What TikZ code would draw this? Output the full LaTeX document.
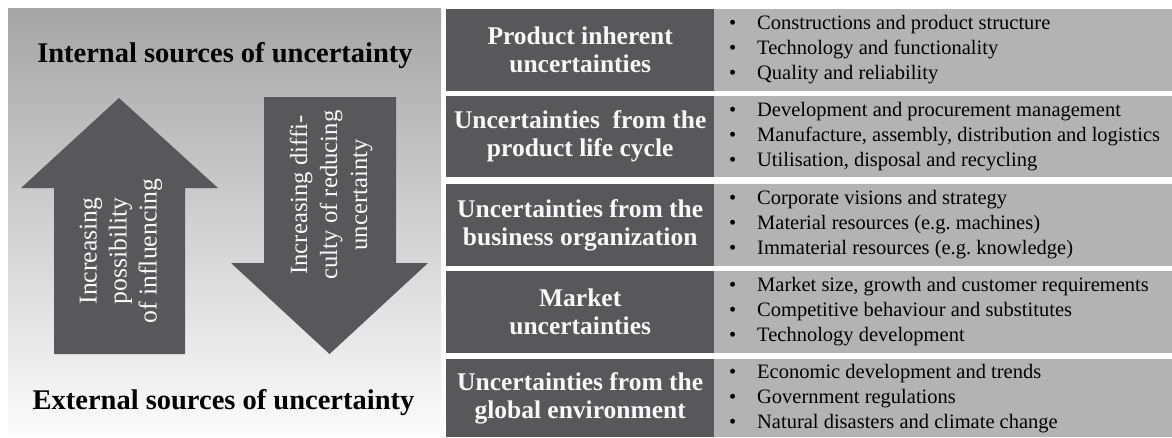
\documentclass[tikz,border=0pt]{standalone}
\usepackage{fontspec}
\setmainfont{Liberation Serif}
\frenchspacing
\definecolor{dk}{RGB}{88,88,90}
\definecolor{lt}{RGB}{179,179,179}
\definecolor{ptop}{RGB}{165,165,165}
\definecolor{pbot}{RGB}{252,252,252}
\definecolor{wt}{RGB}{248,248,248}
\newcommand\myb[1]{\makebox[28pt][l]{\textbullet}#1}
\begin{document}
\begin{tikzpicture}[x=1pt,y=-1pt,
  hdr/.style={fill=dk, text=wt, font=\fontsize{25.5}{28}\selectfont\bfseries,
    align=center, inner sep=0pt, minimum width=268pt, anchor=north west},
  lbox/.style={fill=lt, draw=none, inner sep=0pt, minimum width=458pt, anchor=north west},
  lst/.style={text=black, font=\fontsize{20.5}{25}\selectfont,
    align=left, inner sep=0pt, anchor=west},
  ttl/.style={font=\fontsize{28.5}{32}\selectfont\bfseries, text=black, inner sep=0pt},
  arrtxt/.style={text=wt, align=center, inner sep=0pt, rotate=90},
  arr/.style={fill=dk, draw=none}]
\useasboundingbox (0,0) rectangle (1172,437);
% left panel
\shade[top color=ptop, bottom color=pbot] (8,8) rectangle (441,436);
\node[ttl] (int) at (225,55.4) {Internal sources of uncertainty};
\node[ttl] (ext) at (223.5,402.4) {External sources of uncertainty};
% arrows
\fill[arr] (119,98) -- (218,188) -- (185,188) -- (185,354) -- (54,354) -- (54,188) -- (21,188) -- cycle;
\fill[arr] (264,97) -- (396,97) -- (396,263) -- (428,263) -- (329.5,354) -- (231,263) -- (264,263) -- cycle;
\node[arrtxt, font=\fontsize{25.7}{30}\selectfont] (up) at (121,251) {Increasing\\possibility\\of influencing};
\node[arrtxt, font=\fontsize{24.7}{30}\selectfont] (down) at (331,195) {Increasing diffi-\\culty of reducing\\uncertainty};
% rows
\node[hdr, minimum height=82pt] (h1) at (446,9) {Product inherent\\uncertainties};
\node[lbox, minimum height=82pt] (b1) at (714,9) {};
\node[lst] (l1) at (729,50) {\myb{Constructions and product structure}\\\myb{Technology and functionality}\\\myb{Quality and reliability}};
\node[hdr, minimum height=81pt] (h2) at (446,96) {Uncertainties\ \ from the\\product life cycle};
\node[lbox, minimum height=81pt] (b2) at (714,96) {};
\node[lst] (l2) at (729,136.5) {\myb{Development and procurement management}\\\myb{Manufacture, assembly, distribution and logistics}\\\myb{Utilisation, disposal and recycling}};
\node[hdr, minimum height=82pt] (h3) at (446,184) {Uncertainties from the\\business organization};
\node[lbox, minimum height=82pt] (b3) at (714,184) {};
\node[lst] (l3) at (729,225) {\myb{Corporate visions and strategy}\\\myb{Material resources (e.g. machines)}\\\myb{Immaterial resources (e.g. knowledge)}};
\node[hdr, minimum height=82pt] (h4) at (446,271) {Market\\uncertainties};
\node[lbox, minimum height=82pt] (b4) at (714,271) {};
\node[lst] (l4) at (729,312) {\myb{Market size, growth and customer requirements}\\\myb{Competitive behaviour and substitutes}\\\myb{Technology development}};
\node[hdr, minimum height=78pt] (h5) at (446,359) {Uncertainties from the\\global environment};
\node[lbox, minimum height=78pt] (b5) at (714,359) {};
\node[lst] (l5) at (729,399) {\myb{Economic development and trends}\\\myb{Government regulations}\\\myb{Natural disasters and climate change}};
\end{tikzpicture}
\end{document}
